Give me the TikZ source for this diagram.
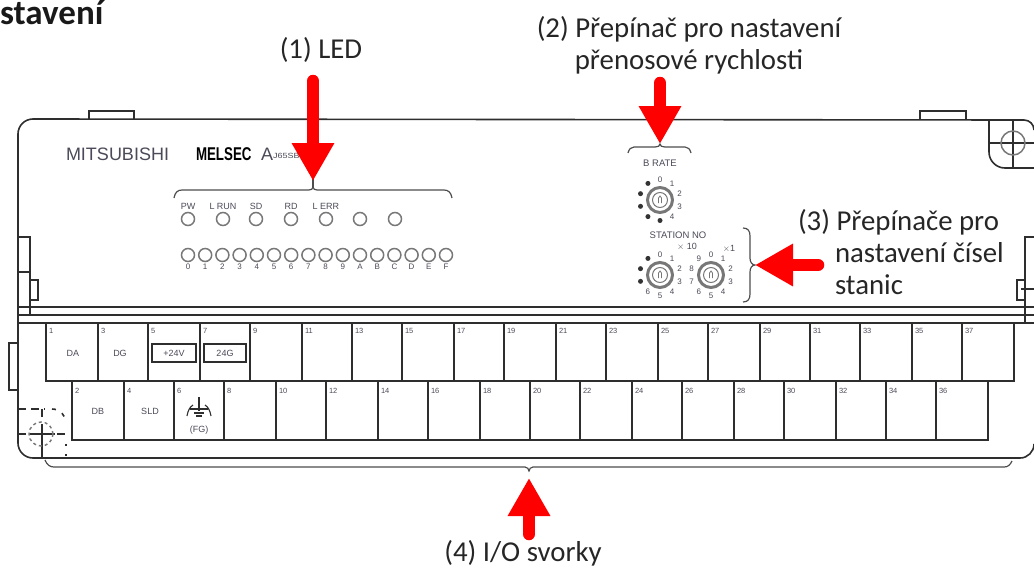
\documentclass[tikz,border=0pt]{standalone}
\usepackage{fontspec}
\setmainfont{Carlito}
\newfontfamily\labelfont{Liberation Sans}
\usepackage{xcolor}
\usetikzlibrary{arrows.meta, positioning, calc}
\definecolor{inkgray}{HTML}{2E2E2E}
\definecolor{printgray}{HTML}{4A4A58}
\definecolor{ringgray}{HTML}{777777}

\begin{document}
\begin{tikzpicture}[
    x=1pt, y=-1pt,
    every node/.style={inner sep=0pt, outer sep=0pt},
    unit/.style={draw=inkgray, line width=1.6pt},
    thinunit/.style={draw=inkgray, line width=1.1pt},
    brace/.style={draw=inkgray!85, line width=1.2pt},
    redarrow/.style={draw=red, line width=12.5pt, line cap=round,
        -{Triangle[width=40pt, length=38pt, fill=red]}},
    lbl/.style={font=\fontsize{28.8}{32}\selectfont, text=black!85, align=left},
    tiny/.style={font=\labelfont\fontsize{9}{10}\selectfont, text=printgray},
    num/.style={font=\labelfont\fontsize{7.5}{8}\selectfont, text=printgray, anchor=west},
    led/.style={draw=ringgray, line width=1.5pt, circle, minimum size=13pt},
    pinlbl/.style={font=\labelfont\fontsize{8}{8}\selectfont, text=printgray},
    pindot/.style={fill=black!80, circle, minimum size=5pt},
]
    \useasboundingbox (0,0) rectangle (1034,568);

    % rotary switch: name, x, y, how many of the ten positions carry a digit
    \newcommand{\rotswitch}[4]{%
        \coordinate (#1) at (#2,#3);
        \node[draw=ringgray, line width=3pt, circle, minimum size=25pt] (#1ring) at (#1) {};
        \node[draw=ringgray, line width=1pt, circle, minimum size=15pt] (#1knob) at (#1) {};
        \draw[draw=ringgray, line width=0.8pt] (#2-1.5,#3+3) -- (#2-1.5,#3-2) -- (#2,#3-4) -- (#2+1.5,#3-2) -- (#2+1.5,#3+3);
        \foreach \pos in {0,...,9} {
            \pgfmathsetmacro{\ang}{-90+36*\pos}
            \ifnum\pos<#4
                \node[pinlbl] (#1p\pos) at ($(#1)+(\ang:20.5)$) {\pos};
            \else
                \node[pindot] (#1p\pos) at ($(#1)+(\ang:20.5)$) {};
            \fi
        }
    }

    % housing
    \draw[unit] (1034,130) arc[start angle=0, end angle=-90, radius=10] -- (33,119)
        arc[start angle=-90, end angle=-180, radius=15] -- (18,443)
        arc[start angle=180, end angle=90, radius=15] -- (1020,458)
        arc[start angle=90, end angle=0, radius=14];
    \draw[unit] (89,119) -- (89,111) -- (134,111) -- (134,119);
    \draw[unit] (920,119) -- (920,111) -- (966,111) -- (966,119);
    \draw[unit] (18,307) -- (1034,307);
    \draw[unit] (18,315) -- (1034,315);
    \draw[unit] (18,323) -- (1034,323);

    % latches left and right
    \draw[unit] (18,237) -- (30,237) -- (30,315);
    \draw[unit] (18,272) -- (30,272);
    \draw[thinunit] (30,280) -- (38,280) -- (38,300) -- (30,300);
    \draw[unit] (9,343) rectangle (18,390);
    \draw[unit] (1034,237) -- (1025,237) -- (1025,323);
    \draw[thinunit] (1025,280) -- (1017,280) -- (1017,300) -- (1025,300);
    \draw[thinunit] (1021,289) -- (1034,289);

    % screw top right
    \draw[unit] (989,119) -- (989,152) arc[start angle=180, end angle=90, radius=16] -- (1034,168);
    \draw[unit] (989,143) -- (1034,143);
    \draw[unit] (1013,119) -- (1013,168);
    \node[draw=ringgray, line width=1.5pt, circle, minimum size=24pt] (screwtop) at (1013,143) {};

    % screw bottom left, hidden
    \draw[unit, dash pattern=on 8pt off 5pt] (18,409) -- (45,409);
    \draw[unit, dash pattern=on 8pt off 5pt] (42,409) -- (42,420);
    \draw[unit] (42,424) -- (42,458);
    \draw[unit] (29,434) -- (55,434);
    \draw[unit, dash pattern=on 8pt off 5pt] (18,434) -- (27,434);
    \draw[unit, dash pattern=on 8pt off 5pt] (57,434) -- (67,434);
    \draw[unit, dash pattern=on 4pt off 7pt] (52,409) arc[start angle=-90, end angle=0, radius=14];
    \draw[unit, dash pattern=on 2pt off 8pt] (66,444) -- (66,458);
    \node[draw=ringgray, line width=1.4pt, dashed, circle, minimum size=24pt] (screwbot) at (41,434) {};

    % terminals, upper row
    \foreach \xa/\xb/\num in {46/98/1, 98/148/3, 148/200/5, 200/250/7, 250/302/9,
        302/352/11, 352/402/13, 402/454/15, 454/504/17, 504/556/19, 556/606/21,
        606/658/23, 658/708/25, 708/760/27, 760/810/29, 810/860/31, 860/912/33,
        912/962/35, 962/1014/37} {
        \draw[unit] (\xa,323) rectangle (\xb,381);
        \node[num] (t\num) at (\xa+3,331) {\num};
    }
    % terminals, lower row
    \foreach \xa/\xb/\num in {72/124/2, 124/174/4, 174/224/6, 224/276/8, 276/326/10,
        326/378/12, 378/428/14, 428/480/16, 480/530/18, 530/580/20, 580/632/22,
        632/682/24, 682/734/26, 734/784/28, 784/836/30, 836/886/32, 886/936/34,
        936/988/36} {
        \draw[unit] (\xa,381) rectangle (\xb,440);
        \node[num] (t\num) at (\xa+3,391) {\num};
    }
    \node[tiny] (da) at (73,353) {DA};
    \node[tiny] (dg) at (120,353) {DG};
    \node[tiny] (db) at (98,411) {DB};
    \node[tiny] (sld) at (150,411) {SLD};
    \node[tiny] (fg) at (199,430) {(FG)};
    \node[tiny, unit, minimum width=44pt, minimum height=18pt] (plus24) at (174,353) {+24V};
    \node[tiny, unit, minimum width=42pt, minimum height=18pt] (gnd24) at (225,353) {24G};

    % ground sign
    \draw[thinunit] (199,397) -- (199,411);
    \draw[thinunit] (190,409) -- (208,409);
    \draw[thinunit] (194,413) -- (204,413);
    \draw[thinunit] (196,416) -- (202,416);
    \draw[thinunit] (187,416) .. controls (188,410) and (190,407) .. (193,405);
    \draw[thinunit] (211,416) .. controls (210,410) and (208,407) .. (205,405);

    % name plate
    \node[font=\labelfont\fontsize{18}{18}\selectfont, text=printgray, anchor=west] (maker) at (66,154) {MITSUBISHI};
    \node[font=\labelfont\bfseries\fontsize{18.5}{18}\selectfont, text=black, anchor=west, xscale=0.72] (series) at (196,154) {MELSEC};
    \node[font=\labelfont\fontsize{18}{18}\selectfont, text=printgray, anchor=west] (seriesa) at (261,154) {A};
    \node[font=\labelfont\fontsize{7.5}{8}\selectfont, text=printgray, anchor=west, xscale=1.2] (model) at (273,156) {J65SBT-16D};

    % LEDs
    \draw[brace] (174,198) .. controls (175,192) and (178,190) .. (182,190) -- (309,190)
        .. controls (311,190) and (313,189) .. (313,187) .. controls (313,189) and (315,190) .. (317,190)
        -- (444,190) .. controls (448,190) and (451,192) .. (452,198);
    \foreach \lx/\ltxt [count=\i] in {188/PW, 223/L RUN, 256/SD, 291/RD, 326/L ERR, 360/, 395/} {
        \node[led] (s\i) at (\lx,219) {};
        \node[tiny, above=3pt of s\i] (st\i) {\ltxt};
    }
    \foreach \ltxt [count=\i from 0] in {0,1,2,3,4,5,6,7,8,9,A,B,C,D,E,F} {
        \node[led] (b\i) at (188+17.2*\i,255) {};
        \node[tiny, font=\labelfont\fontsize{8}{8}\selectfont, below=2pt of b\i] (bt\i) {\ltxt};
    }

    % switches
    \draw[brace] (628,153) .. controls (629,149) and (631,147) .. (634,147) -- (655,147)
        .. controls (658,147) and (660,146) .. (660,144) .. controls (660,146) and (662,147) .. (665,147)
        -- (685,147) .. controls (688,147) and (690,149) .. (691,153);
    \node[tiny, font=\labelfont\fontsize{9.5}{10}\selectfont] (brate) at (660,163) {B RATE};
    \rotswitch{brsw}{660}{200}{5}
    \node[tiny, font=\labelfont\fontsize{9.5}{10}\selectfont] (station) at (678,235) {STATION NO};
    \node[tiny] (xten) at (687,247) {$\times$ 10};
    \node[tiny] (xone) at (729,249) {$\times$1};
    \rotswitch{stten}{660}{275}{7}
    \rotswitch{stone}{711}{275}{10}
    \draw[brace] (743,228) .. controls (748,228) and (750,231) .. (750,236) -- (750,258)
        .. controls (750,262) and (752,265) .. (755,265) .. controls (752,265) and (750,268) .. (750,272)
        -- (750,294) .. controls (750,299) and (748,302) .. (743,302);

    % bracket under the terminals
    \draw[brace] (45,460) .. controls (47,465) and (50,467) .. (54,467) -- (525,467)
        .. controls (527,467) and (529,469) .. (529,471) .. controls (529,469) and (531,467) .. (533,467)
        -- (1004,467) .. controls (1008,467) and (1010,465) .. (1012,461);

    % title and labels
    \node[font=\bfseries\fontsize{35}{36}\selectfont, text=black!90, anchor=west] (title) at (0,13) {stavení};
    \node[lbl] (ledlbl) at (321,50) {(1) LED};
    \node[lbl, align=center] (ratelbl) at (689,45) {(2) Přepínač pro nastavení\\přenosové rychlosti};
    \node[lbl, anchor=north west] (stationlbl) at (798,209) {(3) Přepínače pro\\\hspace{37pt}nastavení čísel\\\hspace{37pt}stanic};
    \node[lbl] (iolbl) at (523,553) {(4) I/O svorky};

    % arrows
    \coordinate (ledtail) at (313,81);
    \coordinate (ledtip) at (313,181);
    \coordinate (ratetail) at (660,83);
    \coordinate (ratetip) at (660,144);
    \coordinate (stationtail) at (818,265);
    \coordinate (stationtip) at (755,265);
    \coordinate (iotail) at (529,534);
    \coordinate (iotip) at (529,478);
    \draw[brace, line width=2pt] (313,172) -- (313,187);
    \draw[redarrow] (ledtail) -- (ledtip);
    \draw[redarrow] (ratetail) -- (ratetip);
    \draw[redarrow] (stationtail) -- (stationtip);
    \draw[redarrow] (iotail) -- (iotip);
\end{tikzpicture}
\end{document}
